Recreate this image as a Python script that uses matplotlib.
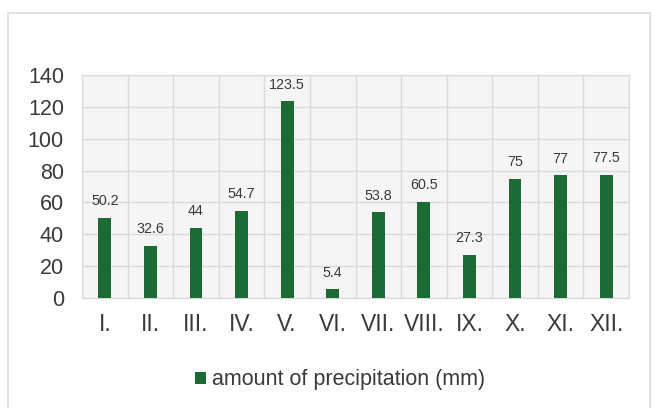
import matplotlib.pyplot as plt
from matplotlib.patches import Rectangle

months = ["I.", "II.", "III.", "IV.", "V.", "VI.", "VII.", "VIII.", "IX.", "X.", "XI.", "XII."]
precip = [50.2, 32.6, 44, 54.7, 123.5, 5.4, 53.8, 60.5, 27.3, 75, 77, 77.5]
yticks = [0, 20, 40, 60, 80, 100, 120, 140]

plt.rcParams['font.family'] = ['Liberation Sans', 'DejaVu Sans']
bar_color = '#1d6b34'
text_color = '#3a3a3a'

fig = plt.figure(figsize=(6.54, 4.08), dpi=100)
fig.patches.append(Rectangle((8 / 654, -0.1), 642 / 654, 1.1 - 13 / 408,
                             transform=fig.transFigure, fill=False,
                             edgecolor='#dcdcdc', linewidth=1.2))
ax = fig.add_axes([82 / 654, 1 - 298 / 408, 547 / 654, 223 / 408])
ax.set_facecolor('#f5f5f5')

x = range(len(months))
bars = ax.bar(x, precip, width=0.28, color=bar_color, zorder=3,
              label='amount of precipitation (mm)')
for xi, v in zip(x, precip):
    ax.annotate(f"{v:g}", (xi, v), xytext=(0, 7), textcoords='offset points',
                ha='center', va='bottom', fontsize=10.3, color=text_color)

ax.set_xlim(-0.5, len(months) - 0.5)
ax.set_ylim(0, 140)
ax.set_yticks(yticks)
ax.set_xticks(list(x))
ax.set_xticklabels(months)
ax.set_xticks([i + 0.5 for i in range(-1, len(months))], minor=True)
ax.grid(True, which='minor', axis='x', color='#d9d9d9', linewidth=1, zorder=0)
ax.grid(True, which='major', axis='y', color='#d9d9d9', linewidth=1, zorder=0)
ax.tick_params(axis='both', which='both', length=0, labelcolor=text_color)
ax.tick_params(axis='y', labelsize=15.5, pad=13)
ax.tick_params(axis='x', labelsize=16.5, pad=11)
for s in ax.spines.values():
    s.set_color('#d9d9d9')

fig.legend(handles=[bars], loc='center', bbox_to_anchor=(340 / 654, 1 - 380 / 408),
           frameon=False, fontsize=15.5, handlelength=0.5, handleheight=0.5,
           handletextpad=0.3, labelcolor=text_color)

fig.savefig('out.png', dpi=100)
